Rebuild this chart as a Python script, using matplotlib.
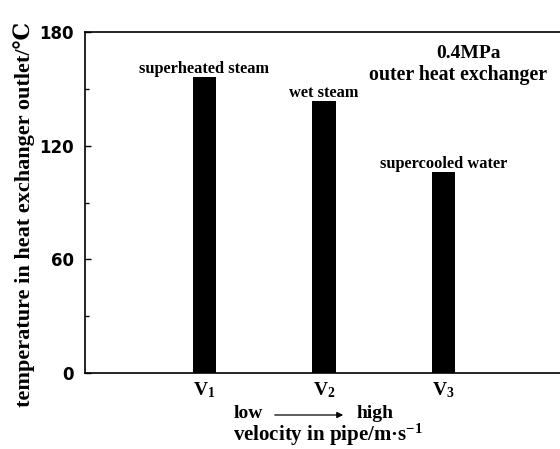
import matplotlib
matplotlib.use("Agg")
import matplotlib.pyplot as plt
from matplotlib.ticker import MultipleLocator

categories = [r'$\mathbf{V_1}$', r'$\mathbf{V_2}$', r'$\mathbf{V_3}$']
values = [156, 143.5, 106]
state_labels = ['superheated steam', 'wet steam', 'supercooled water']
yticks = [0, 60, 120, 180]

plt.rcParams['mathtext.fontset'] = 'custom'
plt.rcParams['mathtext.bf'] = 'Liberation Serif:bold'
plt.rcParams['mathtext.rm'] = 'Liberation Serif:bold'
plt.rcParams['mathtext.it'] = 'Liberation Serif:bold'

serif = ['Liberation Serif', 'DejaVu Serif', 'DejaVu Sans']

fig = plt.figure(figsize=(5.6, 4.49), dpi=100)
ax = fig.add_axes([85/560, 1 - 373/449, (563-85)/560, (373-32)/449])

x = [1, 2, 3]
ax.bar(x, values, width=0.2, color='black')
ax.set_xlim(0, 4)
ax.set_ylim(0, 180)
ax.set_yticks(yticks)
ax.yaxis.set_minor_locator(MultipleLocator(30))
ax.set_xticks(x)
ax.set_xticklabels(categories, fontsize=14)
ax.tick_params(axis='x', length=0, pad=5)
ax.tick_params(axis='y', which='major', direction='in', length=4, width=1, pad=8)
ax.tick_params(axis='y', which='minor', direction='in', length=3, width=1)
for lab in ax.get_yticklabels():
    lab.set_fontfamily('DejaVu Sans')
    lab.set_fontweight('bold')
    lab.set_fontsize(12)
for sp in ax.spines.values():
    sp.set_linewidth(1.2)

for xi, v, s in zip(x, values, state_labels):
    ax.text(xi, v + 2.2, s, ha='center', va='baseline', family=serif,
            fontweight='bold', fontsize=11.8)

ax.text(0.802, 0.924, '0.4MPa', transform=ax.transAxes, ha='center', va='baseline',
        family=serif, fontweight='bold', fontsize=14)
ax.text(0.780, 0.859, 'outer heat exchanger', transform=ax.transAxes, ha='center',
        va='baseline', family=serif, fontweight='bold', fontsize=14.3)

fig.text(24/560, 1 - 214/449, 'temperature in heat exchanger outlet/℃', rotation=90,
         ha='center', va='center', family=serif, fontweight='bold', fontsize=16)

fig.text(248/560, 1 - 414/449, 'low', ha='center', va='center', family=serif,
         fontweight='bold', fontsize=14)
fig.text(375/560, 1 - 414/449, 'high', ha='center', va='center', family=serif,
         fontweight='bold', fontsize=14)
fig.add_artist(matplotlib.patches.FancyArrowPatch(
    (272/560, 1 - 415/449), (346/560, 1 - 415/449), transform=fig.transFigure,
    arrowstyle='-|>', mutation_scale=9, color='black', lw=0.9))
fig.text(328/560, 1 - 435/449, r'velocity in pipe/m·s$^{\mathbf{-1}}$', ha='center',
         va='center', family=serif, fontweight='bold', fontsize=15)

fig.savefig('out.png', dpi=100)
